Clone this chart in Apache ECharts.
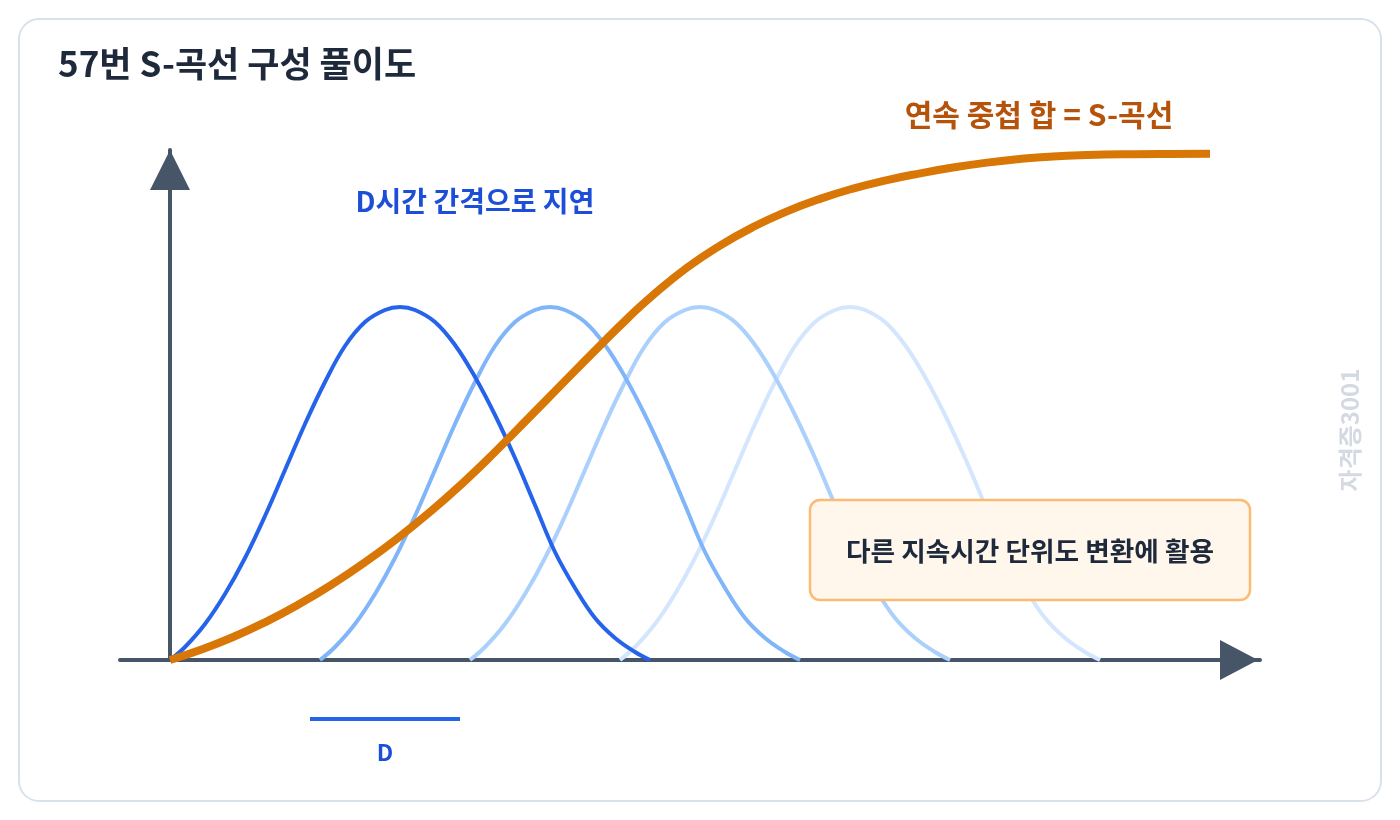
<!DOCTYPE html>
<html>
<head>
<meta charset="utf-8">
<script src="https://cdn.jsdelivr.net/npm/echarts@6/dist/echarts.min.js"></script>
<style>
html,body{margin:0;padding:0;background:#ffffff;}
#chart{width:1400px;height:820px;}
</style>
</head>
<body>
<div id="chart"></div>
<script>
// Unit hydrograph profile (time offset from start, ordinate)
const bellTime = [0, 0.3, 0.7, 1.1, 1.5, 1.9, 2.3, 2.7, 3.1, 3.5, 3.9, 4.3, 4.6, 4.9, 5.3, 5.7, 6.1, 6.5, 6.9, 7.3, 7.7, 8.1, 8.5, 8.9, 9.3, 9.6];
const bellValue = [0, 2.6, 7.2, 13.2, 20.4, 28.8, 38, 47.2, 55.6, 62.8, 67.6, 70, 70.6, 70, 67.6, 63, 56.6, 49, 40.4, 31, 21.6, 14.4, 8.4, 4.4, 1.6, 0];
// Start time of each lagged hydrograph (lag D = 3 time units)
const bellDelays = [0, 3, 6, 9];
const bellColors = ['#2563eb', '#80b6f9', '#abd0fc', '#d4e6fd'];
// S-curve
const sTime = [0, 0.56, 1.24, 1.9, 2.56, 3.24, 3.9, 4.56, 5.16, 5.84, 6.5, 7.16, 7.84, 8.5, 9.16, 9.64, 10.34, 11, 11.66, 12.34, 13, 13.66, 14.34, 15, 15.66, 16.34, 17, 17.66, 18.34, 19.26, 20, 20.8];
const sValue = [0, 1.85, 4.5, 7.54, 11.04, 15.12, 19.54, 24.42, 29.28, 35.26, 41.6, 48.27, 55.2, 61.87, 68.4, 72.8, 78.47, 82.89, 86.59, 89.72, 92.23, 94.28, 95.98, 97.33, 98.49, 99.48, 100.21, 100.71, 100.98, 101.16, 101.22, 101.24];
// D interval marker
const dMarkTime = [2.8, 5.8];
const dMarkValue = -11.8;

const FONT = '"Noto Sans CJK KR", "Noto Sans", sans-serif';

const series = [];
bellDelays.forEach((d, i) => {
  series.push({
    type: 'line',
    name: 'bell' + (i + 1),
    data: bellTime.map((t, k) => [t + d, bellValue[k]]),
    smooth: 0.4,
    symbol: 'none',
    clip: false,
    z: 2 + (bellDelays.length - i) * 0.01,
    lineStyle: { color: bellColors[i], width: 4 }
  });
});
series.push({
  type: 'line',
  name: 'S',
  data: sTime.map((t, k) => [t, sValue[k]]),
  smooth: 0.5,
  symbol: 'none',
  clip: false,
  z: 5,
  lineStyle: { color: '#d97706', width: 8 }
});
series.push({
  type: 'line',
  name: 'D',
  data: dMarkTime.map(t => [t, dMarkValue]),
  symbol: 'none',
  clip: false,
  z: 5,
  lineStyle: { color: '#2563eb', width: 4 }
});

const chart = echarts.init(document.getElementById('chart'), null, { renderer: 'canvas' });
chart.setOption({
  backgroundColor: '#ffffff',
  animation: false,
  title: {
    text: '57번 S-곡선 구성 풀이도',
    left: 58,
    top: 46,
    padding: 0,
    textStyle: { fontFamily: FONT, fontSize: 35, fontWeight: 'bold', color: '#1e293b' }
  },
  grid: { left: 120, right: 140, top: 150, bottom: 160, containLabel: false },
  xAxis: {
    type: 'value', min: -1, max: 21.8,
    axisLine: { show: true, onZero: true, symbol: ['none', 'triangle'], symbolSize: [40, 38], symbolOffset: [0, -21],
      lineStyle: { color: '#475569', width: 4 } },
    axisTick: { show: false }, axisLabel: { show: false }, splitLine: { show: false }
  },
  yAxis: {
    type: 'value', min: 0, max: 102,
    axisLine: { show: true, onZero: true, symbol: ['none', 'triangle'], symbolSize: [40, 40], symbolOffset: [0, -20],
      lineStyle: { color: '#475569', width: 4 } },
    axisTick: { show: false }, axisLabel: { show: false }, splitLine: { show: false }
  },
  graphic: [
    { type: 'rect', z: -10, shape: { x: 19, y: 19, width: 1362, height: 782, r: 20 },
      style: { fill: '#ffffff', stroke: '#d9e2ec', lineWidth: 2 } },
    { type: 'text', z: 10, x: 475, y: 201,
      style: { text: 'D시간 간격으로 지연', font: 'bold 28px ' + FONT, fill: '#1d4ed8', align: 'center', verticalAlign: 'middle' } },
    { type: 'text', z: 10, x: 1039, y: 115,
      style: { text: '연속 중첩 합 = S-곡선', font: 'bold 30px ' + FONT, fill: '#b45309', align: 'center', verticalAlign: 'middle' } },
    { type: 'text', z: 10, x: 385, y: 752,
      style: { text: 'D', font: 'bold 23px ' + FONT, fill: '#1d4ed8', align: 'center', verticalAlign: 'middle' } },
    { type: 'rect', z: 20, shape: { x: 810, y: 500, width: 440, height: 100, r: 10 },
      style: { fill: '#fff6ec', stroke: '#fdba74', lineWidth: 2.5 } },
    { type: 'text', z: 21, x: 1030, y: 551,
      style: { text: '다른 지속시간 단위도 변환에 활용', font: 'bold 26.7px ' + FONT, fill: '#1e293b', align: 'center', verticalAlign: 'middle' } },
    { type: 'text', z: 10, x: 1350, y: 430, rotation: Math.PI / 2,
      style: { text: '자격증3001', font: 'bold 24px ' + FONT, fill: '#d5dae2', align: 'center', verticalAlign: 'middle' } }
  ],
  series: series
});
</script>
</body>
</html>
